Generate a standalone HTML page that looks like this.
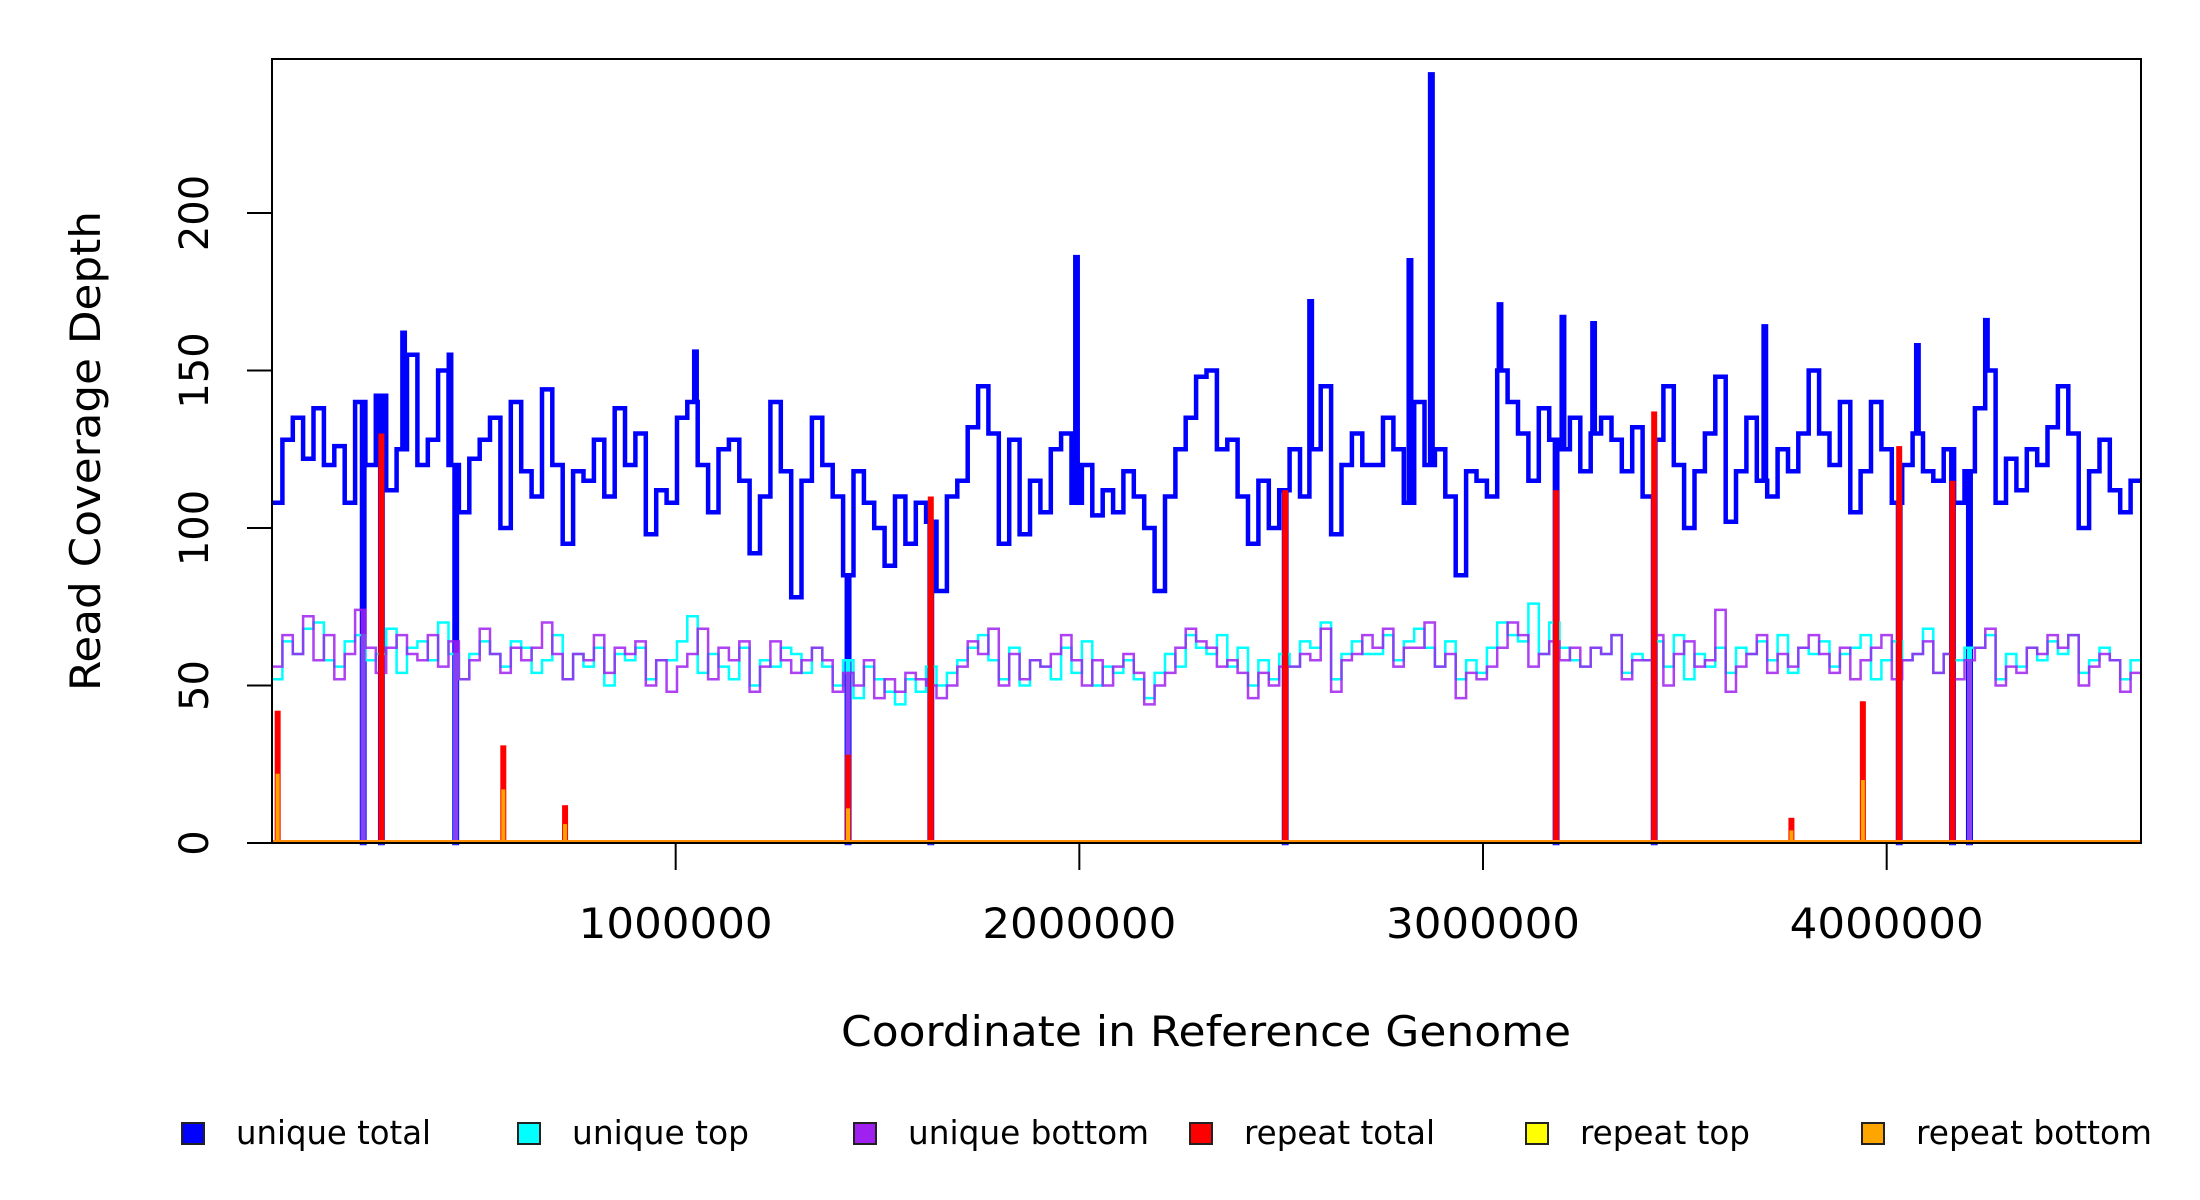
<!DOCTYPE html>
<html><head><meta charset="utf-8"><style>
html,body{margin:0;padding:0;background:#fff;}
svg{display:block;font-family:"DejaVu Sans","Liberation Sans",sans-serif;}
</style></head>
<body>
<svg id="chart" width="2200" height="1200" viewBox="0 0 2200 1200" xmlns="http://www.w3.org/2000/svg">
<rect width="2200" height="1200" fill="#fff"/>
<g id="series"></g>
<rect x="272" y="59" width="1869" height="784" fill="none" stroke="#000" stroke-width="2"/>
<g id="yaxis"></g>
<g id="xaxis"></g>
<text transform="translate(100,451) rotate(-90)" text-anchor="middle" font-size="42" textLength="480" lengthAdjust="spacingAndGlyphs">Read Coverage Depth</text>
<text x="1206" y="1046" text-anchor="middle" font-size="42" textLength="730" lengthAdjust="spacingAndGlyphs">Coordinate in Reference Genome</text>
<g id="legend"></g>
</svg>
<script>
// ---- data ----
const genomeLength = 4630000;
const uniqueTotal = [108,128,135,122,138,120,126,108,140,120,142,112,125,155,120,128,150,120,105,122,128,135,100,140,118,110,144,120,95,118,115,128,110,138,120,130,98,112,108,135,140,120,105,125,128,115,92,110,140,118,78,115,135,120,110,85,118,108,100,88,110,95,108,102,80,110,115,132,145,130,95,128,98,115,105,125,130,108,120,104,112,105,118,110,100,80,110,125,135,148,150,125,128,110,95,115,100,112,125,110,125,145,98,120,130,120,120,135,125,108,140,120,125,110,85,118,115,110,150,140,130,115,138,128,125,135,118,130,135,128,118,132,110,128,145,120,100,118,130,148,102,118,135,115,110,125,118,130,150,130,120,140,105,118,140,125,108,120,130,118,115,125,108,118,138,150,108,122,112,125,120,132,145,130,100,118,128,112,105,115];
const uniqueTop = [52,64,60,68,70,58,56,64,66,58,60,68,54,62,64,58,70,60,52,60,64,60,56,64,62,54,58,66,52,60,56,62,50,60,58,62,52,58,58,64,72,54,60,56,52,62,50,58,56,62,60,54,62,56,50,58,46,56,52,48,44,52,48,56,50,54,58,62,66,58,52,62,50,58,56,52,62,54,64,50,56,54,58,52,46,54,60,56,66,62,60,66,56,62,50,58,52,60,56,64,62,70,52,60,64,60,60,66,58,64,68,62,56,64,52,58,54,62,70,66,64,76,60,70,62,58,56,62,60,66,54,60,58,64,56,66,52,60,56,62,54,62,60,64,58,66,54,62,60,64,56,60,62,66,52,58,64,58,60,68,54,60,58,62,62,66,52,60,56,62,58,64,60,66,54,58,62,58,52,58];
const uniqueBottom = [56,66,60,72,58,66,52,60,74,62,54,62,66,60,58,66,56,64,52,58,68,60,54,62,58,62,70,60,52,60,58,66,54,62,60,64,50,58,48,56,60,68,52,62,58,64,48,56,64,58,54,58,62,58,48,54,50,58,46,52,48,54,52,50,46,50,56,64,60,68,50,60,52,58,56,60,66,58,50,58,50,56,60,54,44,50,54,62,68,64,62,56,58,54,46,54,50,56,56,60,58,68,48,58,60,66,62,68,56,62,62,70,56,60,46,54,52,56,62,70,66,56,60,64,58,62,56,62,60,66,52,58,58,66,50,60,64,56,58,74,48,56,60,66,54,60,56,62,66,60,54,62,52,58,62,66,52,58,60,64,54,60,52,58,62,68,50,56,54,62,60,66,62,66,50,56,60,58,48,54];
const peakPos = [326000,441000,1049000,1993000,2573000,2819000,2872000,3042000,3198000,3274000,3698000,4076000,4247000];
const peakVal = [162,155,156,186,172,185,244,171,167,165,164,158,166];
const gapPos = [226000,271000,455000,1427000,1632000,2510000,3181000,3424000,4031000,4163000,4205000];
const repeatPos = [14000,271000,573000,726000,1427000,1632000,2510000,3181000,3424000,3764000,3941000,4031000,4163000];
const repeatTotal = [42,130,31,12,28,110,112,112,137,8,45,126,115];
const repeatBottom = [22,0,17,6,11,0,0,0,0,4,20,0,0];
const yTicks = [0,50,100,150,200];
const xTicks = [1000000,2000000,3000000,4000000];
const xTickLabels = ["1000000","2000000","3000000","4000000"];
const legendLabels = ["unique total","unique top","unique bottom","repeat total","repeat top","repeat bottom"];
const legendColors = ["#0000ff","#00ffff","#a020f0","#ff0000","#ffff00","#ffa500"];

// ---- scales ----
const NS="http://www.w3.org/2000/svg";
const X0=272, X1=2141, Y0=843, PXU=3.15;
const xs = g => X0 + g/genomeLength*(X1-X0);
const ys = v => Y0 - v*PXU;
function mk(tag, attrs, parent){const e=document.createElementNS(NS,tag);for(const k in attrs)e.setAttribute(k,attrs[k]);parent.appendChild(e);return e;}

const spikeW = 6000;
function stepPath(arr, usePeaks){
  const binSize = genomeLength/arr.length;
  const bps = new Set([0,genomeLength]);
  arr.forEach((_,i)=>bps.add(i*binSize));
  gapPos.forEach(p=>{bps.add(p-spikeW/2);bps.add(p+spikeW/2);});
  if(usePeaks) peakPos.forEach(p=>{bps.add(p-spikeW/2);bps.add(p+spikeW/2);});
  const pts=[...bps].filter(b=>b>=0&&b<=genomeLength).sort((a,b)=>a-b);
  const val=g=>{
    for(const p of gapPos) if(g>=p-spikeW/2&&g<p+spikeW/2) return 0;
    if(usePeaks) for(let k=0;k<peakPos.length;k++){const p=peakPos[k]; if(g>=p-spikeW/2&&g<p+spikeW/2) return peakVal[k];}
    return arr[Math.min(arr.length-1,Math.floor(g/binSize))];
  };
  let d="";
  for(let i=0;i<pts.length-1;i++){
    const v=val((pts[i]+pts[i+1])/2);
    d+=(i===0?"M":"L")+xs(pts[i]).toFixed(1)+","+ys(v).toFixed(1)+"L"+xs(pts[i+1]).toFixed(1)+","+ys(v).toFixed(1);
  }
  return d;
}
const sg=document.getElementById('series');
const pT=mk('path',{d:stepPath(uniqueTotal,true),fill:'none',stroke:'#0000ff','stroke-width':4.5},sg);


const pTop=mk('path',{d:stepPath(uniqueTop,false),fill:'none',stroke:'#00ffff','stroke-width':2.5},sg);


const pBot=mk('path',{d:stepPath(uniqueBottom,false),fill:'none',stroke:'#a020f0','stroke-width':2.5,'stroke-opacity':0.85},sg);


repeatPos.forEach((p,i)=>{
  const r=mk('rect',{x:xs(p)-3,y:ys(repeatTotal[i]),width:6,height:repeatTotal[i]*PXU,fill:'#ff0000'},sg);
  
  
  if(repeatBottom[i]>0){
    const o=mk('rect',{x:xs(p)-2,y:ys(repeatBottom[i]),width:4,height:repeatBottom[i]*PXU,fill:'#ffa500'},sg);
    
    
  }
});
const base=mk('line',{x1:X0,x2:X1,y1:Y0-1,y2:Y0-1,stroke:'#ff8c00','stroke-width':4},sg);



// axes
const ya=document.getElementById('yaxis');
yTicks.forEach(v=>{
  const t=mk('line',{x1:X0-25,x2:X0,y1:ys(v),y2:ys(v),stroke:'#000','stroke-width':2},ya);
  
  
  const l=mk('text',{transform:`translate(208,${ys(v)}) rotate(-90)`,'text-anchor':'middle','font-size':40},ya);
  
  
  l.textContent=String(v);
});
const xa=document.getElementById('xaxis');
xTicks.forEach((g,i)=>{
  const t=mk('line',{x1:xs(g),x2:xs(g),y1:Y0,y2:Y0+27,stroke:'#000','stroke-width':2},xa);
  
  
  const l=mk('text',{x:xs(g),y:938,'text-anchor':'middle','font-size':42,textLength:194,lengthAdjust:'spacingAndGlyphs'},xa);
  
  
  l.textContent=xTickLabels[i];
});
// legend
const lg=document.getElementById('legend');
const legX=[182,518,854,1190,1526,1862];
const legW=[195,177,241,191,170,236];
legendLabels.forEach((lab,i)=>{
  const s=mk('rect',{x:legX[i],y:1123,width:22,height:21,fill:legendColors[i],stroke:'#222','stroke-width':2},lg);
  
  
  const t=mk('text',{x:legX[i]+54,y:1144,'font-size':33,textLength:legW[i],lengthAdjust:'spacingAndGlyphs'},lg);
  
  
  t.textContent=lab;
});
</script>
</body></html>
